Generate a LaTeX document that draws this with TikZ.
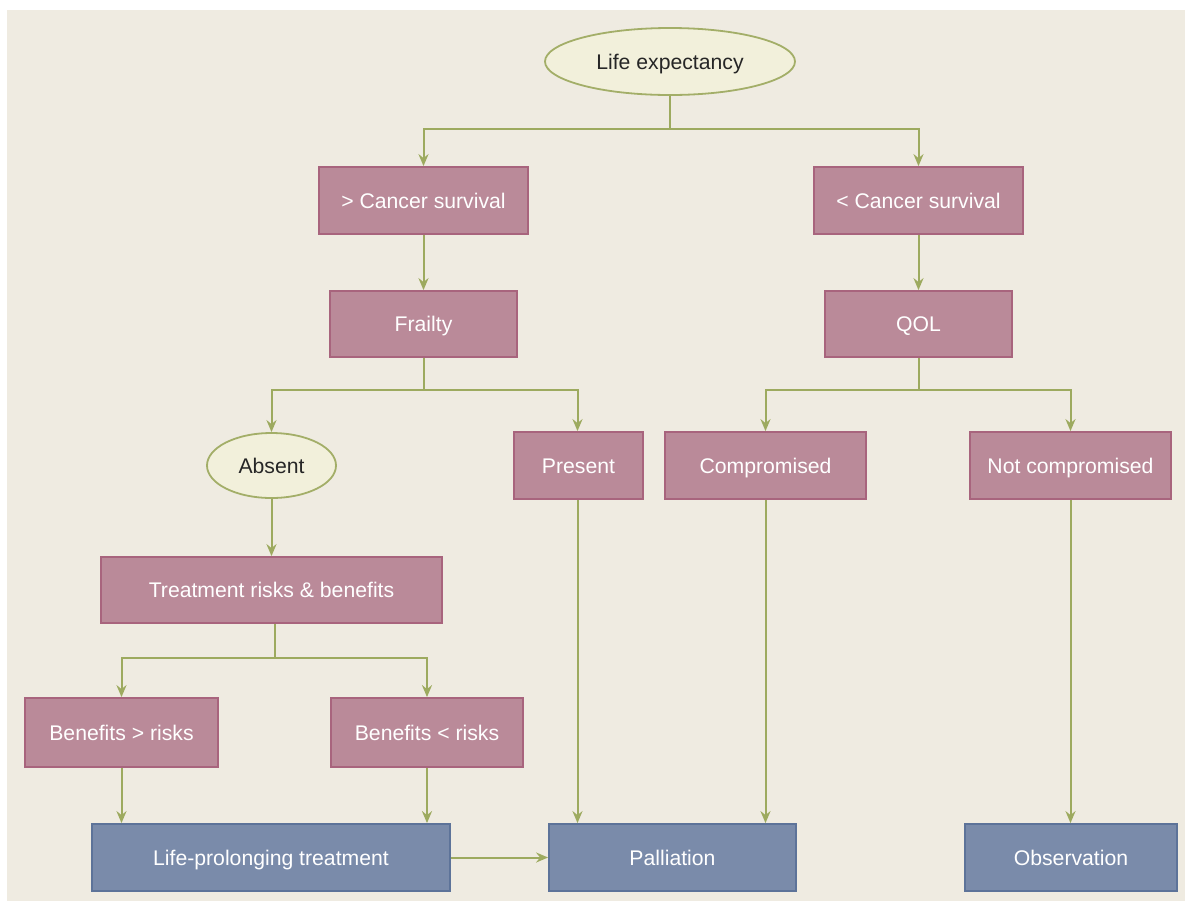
\documentclass[tikz,border=0pt]{standalone}
\usepackage{fontspec}
\setmainfont{Liberation Sans}
\usetikzlibrary{arrows.meta,shapes.geometric}
\definecolor{bgc}{HTML}{EFEBE1}
\definecolor{pinkfill}{HTML}{BA8A99}
\definecolor{pinkline}{HTML}{A8647D}
\definecolor{bluefill}{HTML}{7A8BAA}
\definecolor{blueline}{HTML}{5D7399}
\definecolor{ellfill}{HTML}{F2F0DB}
\definecolor{ellline}{HTML}{A3AE68}
\definecolor{conn}{HTML}{9DAA5F}
\tikzset{
  base/.style={font=\fontsize{10.6}{12}\selectfont, inner sep=0pt, line width=0.9pt,
    text height=9.2pt, text depth=1.6pt},
  pinkbox/.style={base, rectangle, fill=pinkfill, draw=pinkline, text=white, minimum height=33.5pt},
  bluebox/.style={base, rectangle, fill=bluefill, draw=blueline, text=white, minimum height=33.5pt},
  ellbox/.style={base, ellipse, fill=ellfill, draw=ellline, text=black!85},
  arr/.style={draw=conn, line width=1pt, -{Stealth[length=6pt,width=5pt,inset=2pt]}},
  ln/.style={draw=conn, line width=1pt}
}
\begin{document}
\begin{tikzpicture}[x=0.5pt,y=-0.5pt]
\useasboundingbox (0,0) rectangle (1185,901);
\fill[bgc] (7,10) rectangle (1185,901);
\node[ellbox, minimum width=125pt, minimum height=33.5pt] (life) at (670,61.5) {Life expectancy};
\node[pinkbox, minimum width=104.5pt] (canc1) at (423.5,200.5) {> Cancer survival};
\node[pinkbox, minimum width=104.5pt] (canc2) at (918.5,200.5) {< Cancer survival};
\node[pinkbox, minimum width=93.5pt, minimum height=33pt] (frail) at (423.5,324) {Frailty};
\node[pinkbox, minimum width=93.5pt, minimum height=33pt] (qol) at (918.5,324) {QOL};
\node[ellbox, minimum width=64.5pt, minimum height=32.5pt] (absent) at (271.5,465.5) {Absent};
\node[pinkbox, minimum width=64.5pt] (present) at (578.5,465.5) {Present};
\node[pinkbox, minimum width=100.5pt] (comp) at (765.5,465.5) {Compromised};
\node[pinkbox, minimum width=100.5pt] (notcomp) at (1070.5,465.5) {Not compromised};
\node[pinkbox, minimum width=170.5pt, minimum height=33pt] (treat) at (271.5,590) {Treatment risks \& benefits};
\node[pinkbox, minimum width=96.5pt, minimum height=34.5pt] (ben1) at (121.5,732.5) {Benefits > risks};
\node[pinkbox, minimum width=96pt, minimum height=34.5pt] (ben2) at (427,732.5) {Benefits < risks};
\node[bluebox, minimum width=179pt] (lpt) at (271,857.5) {Life-prolonging treatment};
\node[bluebox, minimum width=123.5pt] (pall) at (672.5,857.5) {Palliation};
\node[bluebox, minimum width=106pt] (obs) at (1071,857.5) {Observation};
% connectors
\draw[arr] (life.south) -- ++(0,33) -| (canc1.north);
\draw[arr] (life.south) -- ++(0,33) -| (canc2.north);
\draw[arr] (canc1.south) -- (frail.north);
\draw[arr] (canc2.south) -- (qol.north);
\draw[arr] (frail.south) -- ++(0,32) -| (absent.north);
\draw[arr] (frail.south) -- ++(0,32) -| ([xshift=-0.5pt]present.north);
\draw[arr] (qol.south) -- ++(0,32) -| (comp.north);
\draw[arr] (qol.south) -- ++(0,32) -| (notcomp.north);
\draw[arr] (absent.south) -- (treat.north);
\draw[arr] ([xshift=1.5pt]treat.south) -- ++(0,34) -| (ben1.north);
\draw[arr] ([xshift=1.5pt]treat.south) -- ++(0,34) -| (ben2.north);
\draw[arr] (ben1.south) -- (ben1.south |- lpt.north);
\draw[arr] (ben2.south) -- (ben2.south |- lpt.north);
\draw[arr] ([xshift=-0.5pt]present.south) -- ([xshift=-0.5pt]present.south |- pall.north);
\draw[arr] (comp.south) -- (comp.south |- pall.north);
\draw[arr] (notcomp.south) -- (notcomp.south |- obs.north);
\draw[arr] (lpt.east) -- (pall.west);
\end{tikzpicture}
\end{document}
